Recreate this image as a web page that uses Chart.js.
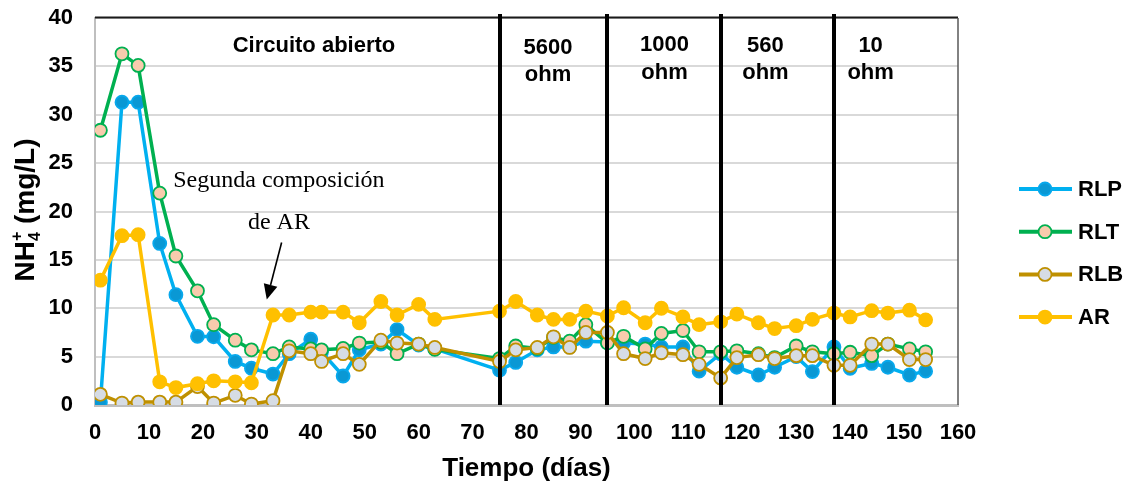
<!DOCTYPE html>
<html>
<head>
<meta charset="utf-8">
<script src="https://cdn.jsdelivr.net/npm/chart.js@4.4.1/dist/chart.umd.min.js"></script>
<style>
  html, body { margin: 0; padding: 0; background: #ffffff; }
  canvas { display: block; }
</style>
</head>
<body>
<canvas id="chart" width="1130" height="486"></canvas>
<script>
// Sampling days (días)
const days = [1, 5, 8, 12, 15, 19, 22, 26, 29, 33,
              36, 40, 42, 46, 49, 53, 56, 60, 63,
              75, 78, 82, 85, 88, 91, 95, 98, 102, 105, 109, 112,
              116, 119, 123, 126, 130, 133, 137, 140, 144, 147, 151, 154];

// NH4+ concentration (mg/L) per reactor
const rlp = [0.3, 31.3, 31.3, 16.7, 11.4, 7.1, 7.05, 4.5, 3.8, 3.2,
             5.3, 6.8, 5.5, 3.0, 5.7, 6.3, 7.8, 6.2, 5.8,
             3.6, 4.4, 5.7, 6.0, 6.0, 6.6, 6.5, 6.4, 6.3, 6.0, 6.0, 3.5,
             5.3, 3.9, 3.1, 3.9, 5.0, 3.45, 6.0, 3.8, 4.3, 3.9, 3.1, 3.5];
const rlt = [28.4, 36.3, 35.1, 21.9, 15.4, 11.8, 8.3, 6.7, 5.7, 5.3,
             6.0, 5.8, 5.7, 5.85, 6.4, 6.5, 5.3, 6.3, 5.75,
             4.8, 6.1, 5.85, 7.0, 6.6, 8.3, 6.4, 7.1, 5.8, 7.4, 7.7, 5.5,
             5.5, 5.6, 5.3, 4.9, 6.1, 5.5, 5.3, 5.45, 5.1, 6.3, 5.8, 5.5];
const rlb = [1.1, 0.2, 0.3, 0.3, 0.3, 1.9, 0.2, 1.0, 0.1, 0.45,
             5.6, 5.3, 4.5, 5.3, 4.2, 6.7, 6.4, 6.3, 5.95,
             4.5, 5.7, 5.95, 7.05, 5.95, 7.5, 7.5, 5.3, 4.8, 5.4, 5.2, 4.2,
             2.8, 4.9, 5.2, 4.8, 5.1, 5.1, 4.1, 4.1, 6.3, 6.3, 4.7, 4.7];
const ar  = [12.9, 17.5, 17.6, 2.4, 1.8, 2.2, 2.5, 2.4, 2.3, 9.3,
             9.3, 9.6, 9.6, 9.6, 8.5, 10.7, 9.3, 10.4, 8.85,
             9.7, 10.7, 9.3, 8.85, 8.85, 9.7, 9.2, 10.05, 8.5, 10.0, 9.1, 8.3,
             8.6, 9.4, 8.5, 7.9, 8.2, 8.85, 9.5, 9.1, 9.75, 9.5, 9.8, 8.8];

const seriesNames = ['RLP', 'RLT', 'RLB', 'AR'];

// Days on which the external resistance was changed
const resistanceChanges = [75, 95, 116, 137];

// Operating phase labels
const phaseLabels = [['Circuito abierto'], ['5600', 'ohm'], ['1000', 'ohm'], ['560', 'ohm'], ['10', 'ohm']];

// Note about the synthetic wastewater change
const noteLines = ['Segunda composición', 'de AR'];

const SANS = '"Liberation Sans", Arial, sans-serif';
const SERIF = '"Liberation Serif", "Times New Roman", serif';

const toPoints = vals => days.map((d, i) => ({ x: d, y: vals[i] }));

function series(name, vals, line, fill, edge, order) {
  return {
    label: name,
    data: toPoints(vals),
    showLine: true,
    borderColor: line,
    backgroundColor: fill,
    borderWidth: 3.5,
    pointRadius: 6.5,
    pointBorderWidth: 1.8,
    pointBackgroundColor: fill,
    pointBorderColor: edge,
    tension: 0,
    order: order
  };
}

// Frame, phase separators, phase labels and the note with its arrow
const decorations = {
  id: 'decorations',
  afterDatasetsDraw(chart, args, opts) {
    const { ctx, chartArea: a, scales: { x, y } } = chart;
    ctx.save();

    // top and right edges of the plot frame
    ctx.strokeStyle = '#1a1a1a';
    ctx.lineWidth = 2;
    ctx.beginPath();
    ctx.moveTo(a.left, a.top - 0.5);
    ctx.lineTo(a.right, a.top - 0.5);
    ctx.stroke();
    ctx.strokeStyle = '#595959';
    ctx.lineWidth = 1.5;
    ctx.beginPath();
    ctx.moveTo(a.right, a.top);
    ctx.lineTo(a.right, a.bottom);
    ctx.stroke();

    // phase separators
    ctx.strokeStyle = '#000000';
    ctx.lineWidth = 4;
    resistanceChanges.forEach(d => {
      const px = Math.round(x.getPixelForValue(d));
      ctx.beginPath();
      ctx.moveTo(px, a.top - 4);
      ctx.lineTo(px, a.bottom);
      ctx.stroke();
    });

    // phase labels
    ctx.fillStyle = '#000000';
    ctx.textAlign = 'center';
    ctx.textBaseline = 'alphabetic';
    ctx.font = 'bold 22px ' + SANS;
    phaseLabels.forEach((lines, i) => {
      const pos = opts.phasePos[i];
      const px = x.getPixelForValue(pos.day);
      const py = y.getPixelForValue(pos.value);
      lines.forEach((t, k) => ctx.fillText(t, px, py + k * opts.phaseLineHeight));
    });

    // note and arrow
    ctx.font = '24px ' + SERIF;
    noteLines.forEach((t, k) => {
      const p = opts.notePos[k];
      ctx.fillText(t, x.getPixelForValue(p.day), y.getPixelForValue(p.value));
    });
    const x0 = x.getPixelForValue(opts.arrow.from[0]);
    const y0 = y.getPixelForValue(opts.arrow.from[1]);
    const x1 = x.getPixelForValue(opts.arrow.to[0]);
    const y1 = y.getPixelForValue(opts.arrow.to[1]);
    const ang = Math.atan2(y1 - y0, x1 - x0);
    const headLen = 15, headHalf = 7;
    const bx = x1 - headLen * Math.cos(ang), by = y1 - headLen * Math.sin(ang);
    ctx.strokeStyle = '#000000';
    ctx.lineWidth = 1.6;
    ctx.beginPath();
    ctx.moveTo(x0, y0);
    ctx.lineTo(bx, by);
    ctx.stroke();
    ctx.beginPath();
    ctx.moveTo(x1, y1);
    ctx.lineTo(bx + headHalf * Math.sin(ang), by - headHalf * Math.cos(ang));
    ctx.lineTo(bx - headHalf * Math.sin(ang), by + headHalf * Math.cos(ang));
    ctx.closePath();
    ctx.fillStyle = '#000000';
    ctx.fill();

    ctx.restore();
  }
};

// Axis titles (with NH4+ sub/superscript) and the legend on the right
const frameText = {
  id: 'frameText',
  afterDraw(chart) {
    const { ctx, chartArea: a } = chart;
    ctx.save();
    ctx.fillStyle = '#000000';

    // x title
    ctx.font = 'bold 26px ' + SANS;
    ctx.textAlign = 'center';
    ctx.textBaseline = 'alphabetic';
    ctx.fillText('Tiempo (días)', (a.left + a.right) / 2, 476);

    // y title, rotated
    ctx.translate(24, 210);
    ctx.rotate(-Math.PI / 2);
    const big = 'bold 28px ' + SANS, small = 'bold 16px ' + SANS;
    ctx.textAlign = 'left';
    ctx.font = big;
    const wNH = ctx.measureText('NH').width;
    const wRest = ctx.measureText(' (mg/L)').width;
    ctx.font = small;
    const wIdx = Math.max(ctx.measureText('4').width, ctx.measureText('+').width);
    const total = wNH + wIdx + wRest;
    let cx = -total / 2;
    const base = 9.5;
    ctx.font = big;
    ctx.fillText('NH', cx, base);
    cx += wNH;
    ctx.font = small;
    ctx.fillText('4', cx, base + 6);
    ctx.fillText('+', cx, base - 12);
    cx += wIdx;
    ctx.font = big;
    ctx.fillText(' (mg/L)', cx, base);
    ctx.setTransform(1, 0, 0, 1, 0, 0);

    // legend
    ctx.textBaseline = 'middle';
    ctx.font = 'bold 22px ' + SANS;
    chart.data.datasets.forEach((ds, i) => {
      const ly = 189 + i * 42.7;
      ctx.strokeStyle = ds.borderColor;
      ctx.lineWidth = 4;
      ctx.beginPath();
      ctx.moveTo(1019, ly);
      ctx.lineTo(1072, ly);
      ctx.stroke();
      ctx.beginPath();
      ctx.arc(1045, ly, 6.5, 0, Math.PI * 2);
      ctx.fillStyle = ds.pointBackgroundColor;
      ctx.fill();
      ctx.lineWidth = 1.8;
      ctx.strokeStyle = ds.pointBorderColor;
      ctx.stroke();
      ctx.fillStyle = '#000000';
      ctx.fillText(ds.label, 1078, ly + 1);
    });
    ctx.restore();
  }
};

const tickFont = { family: SANS, size: 22, weight: 'bold' };

new Chart(document.getElementById('chart'), {
  type: 'scatter',
  data: {
    datasets: [
      series(seriesNames[0], rlp, '#00B0F0', '#0A98D4', '#08A8EC', 4),
      series(seriesNames[1], rlt, '#00B050', '#F8CBAD', '#00B050', 3),
      series(seriesNames[2], rlb, '#BF9000', '#D6DCE4', '#BF9000', 2),
      series(seriesNames[3], ar,  '#FFC000', '#FFC000', '#FFC000', 1)
    ]
  },
  options: {
    responsive: false,
    animation: false,
    devicePixelRatio: 1,
    layout: { padding: { left: 0, right: 172, top: 18, bottom: 0 } },
    plugins: {
      legend: { display: false },
      tooltip: { enabled: false },
      decorations: {
        phasePos: [
          { day: 40.6, value: 36.5 },
          { day: 84.0, value: 36.3 },
          { day: 105.6, value: 36.55 },
          { day: 124.3, value: 36.5 },
          { day: 143.8, value: 36.5 }
        ],
        phaseLineHeight: 27.5,
        notePos: [ { day: 34.1, value: 22.5 }, { day: 34.1, value: 18.2 } ],
        arrow: { from: [34.6, 16.8], to: [31.85, 10.9] }
      }
    },
    scales: {
      x: {
        type: 'linear',
        min: 0,
        max: 160,
        ticks: { stepSize: 10, font: tickFont, color: '#000000', padding: 15, maxRotation: 0, autoSkip: false },
        grid: { display: false, drawTicks: false },
        border: { display: true, color: '#BFBFBF', width: 3 },
        afterFit(scale) { scale.height = 81; }
      },
      y: {
        min: 0,
        max: 40,
        ticks: { stepSize: 5, font: tickFont, color: '#000000', padding: 22 },
        grid: { color: '#D9D9D9', lineWidth: 2, drawTicks: false },
        border: { display: true, color: '#BFBFBF', width: 2 },
        afterFit(scale) {
          scale.width = 95;
          // only half a label of overhang is needed above and below the axis
          scale.paddingTop = 12;
          scale.paddingBottom = 12;
        }
      }
    }
  },
  plugins: [decorations, frameText]
});
</script>
</body>
</html>
